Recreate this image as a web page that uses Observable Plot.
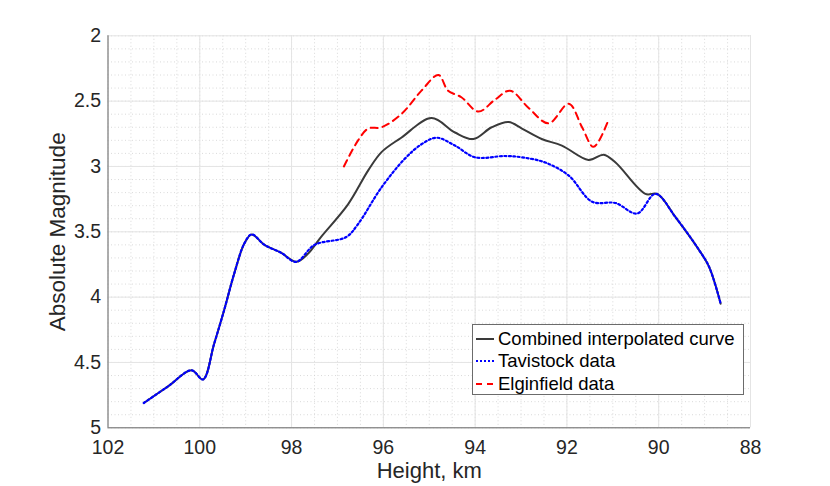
<!DOCTYPE html>
<html>
<head>
<meta charset="utf-8">
<script src="https://cdn.jsdelivr.net/npm/d3@7"></script>
<script src="https://cdn.jsdelivr.net/npm/@observablehq/plot@0.6"></script>
<style>
  html, body { margin: 0; padding: 0; background: #fff; }
  #wrap { position: relative; width: 830px; height: 486px; font-family: "Liberation Sans", Arial, Helvetica, sans-serif; }
  #legend { position: absolute; left: 472px; top: 324px; width: 272px; height: 71px; border: 1px solid #6b6b6b; background: #fff; box-sizing: border-box; }
  .item { position: absolute; left: 2px; height: 22px; display: flex; align-items: center; font-size: 18.5px; color: #000; white-space: nowrap; }
  .item svg { margin-right: 3px; }
</style>
</head>
<body>
<div id="wrap"></div>
<script>
// Combined interpolated curve
const combinedH = [101.22, 100.7, 100.18, 99.93, 99.69, 99.47, 99.25, 99.03, 98.87, 98.59, 98.23, 97.90, 97.65, 97.36, 96.77, 96.33, 96.04, 95.61, 94.95, 94.44, 94.04, 93.64, 93.27, 92.98, 92.55, 92.11, 91.53, 91.20, 90.94, 90.29, 90.03, 89.63, 89.12, 88.90, 88.65];
const combinedM = [4.81, 4.685, 4.56, 4.63, 4.36, 4.10, 3.82, 3.59, 3.52, 3.60, 3.66, 3.73, 3.67, 3.54, 3.29, 3.03, 2.89, 2.78, 2.63, 2.74, 2.79, 2.70, 2.66, 2.71, 2.79, 2.84, 2.95, 2.91, 2.97, 3.21, 3.21, 3.39, 3.64, 3.77, 4.05];
// Tavistock data
const tavH = [101.22, 100.7, 100.18, 99.93, 99.69, 99.47, 99.25, 99.03, 98.87, 98.59, 98.23, 97.90, 97.50, 96.81, 96.55, 96.04, 95.53, 95.17, 94.84, 94.44, 94.00, 93.35, 92.98, 92.47, 91.96, 91.45, 90.94, 90.47, 90.07, 89.63, 89.12, 88.90, 88.65];
const tavM = [4.81, 4.685, 4.56, 4.63, 4.36, 4.10, 3.82, 3.59, 3.52, 3.60, 3.66, 3.73, 3.60, 3.54, 3.44, 3.16, 2.94, 2.83, 2.78, 2.84, 2.93, 2.92, 2.93, 2.97, 3.07, 3.27, 3.28, 3.36, 3.21, 3.39, 3.64, 3.77, 4.05];
// Elginfield data
const elgH = [96.86, 96.55, 96.33, 96.04, 95.61, 95.17, 94.80, 94.59, 94.30, 93.93, 93.57, 93.24, 92.84, 92.40, 91.96, 91.67, 91.42, 91.09];
const elgM = [3.00, 2.80, 2.71, 2.70, 2.60, 2.42, 2.30, 2.42, 2.47, 2.58, 2.49, 2.42, 2.55, 2.67, 2.52, 2.70, 2.85, 2.64];

const xTicks = [102, 100, 98, 96, 94, 92, 90, 88];
const yTicks = [2, 2.5, 3, 3.5, 4, 4.5, 5];
const xMinor = d3.range(88, 102.01, 0.5);
const yMinor = d3.range(2, 5.001, 0.1).map(v => +v.toFixed(2));

const xLabel = "Height, km";
const yLabel = "Absolute Magnitude";
const seriesNames = ["Combined interpolated curve", "Tavistock data", "Elginfield data"];

const toRows = (H, M) => H.map((h, i) => ({h, m: M[i]}));
const combined = toRows(combinedH, combinedM);
const tav = toRows(tavH, tavM);
const elg = toRows(elgH, elgM);

const chart = Plot.plot({
  width: 830,
  height: 486,
  marginLeft: 107.5,
  marginRight: 80,
  marginTop: 35.3,
  marginBottom: 58.7,
  style: {fontFamily: '"Liberation Sans", Arial, Helvetica, sans-serif', background: "#fff", color: "#262626"},
  x: {domain: [102, 88], ticks: xTicks},
  y: {domain: [5, 2], ticks: yTicks},
  marks: [
    Plot.gridX(xMinor, {stroke: "#d0d0d0", strokeOpacity: 1, strokeDasharray: "1,2.5", strokeWidth: 0.8}),
    Plot.gridY(yMinor, {stroke: "#d0d0d0", strokeOpacity: 1, strokeDasharray: "1,2.5", strokeWidth: 0.8}),
    Plot.gridX(xTicks, {stroke: "#e4e4e4", strokeOpacity: 1, strokeWidth: 1}),
    Plot.gridY(yTicks, {stroke: "#e4e4e4", strokeOpacity: 1, strokeWidth: 1}),
    Plot.ruleX([102], {stroke: "#6b6b6b", strokeWidth: 1}),
    Plot.ruleY([5], {stroke: "#6b6b6b", strokeWidth: 1}),
    Plot.axisX(xTicks, {tickSize: 0, tickPadding: 12, fontSize: 19.5, label: null, fill: "#262626"}),
    Plot.axisY(yTicks, {tickSize: 0, tickPadding: 7, fontSize: 19.5, label: null, fill: "#262626", tickFormat: d => String(d)}),
    Plot.line(combined, {x: "h", y: "m", stroke: "#3a3a3a", strokeWidth: 2, curve: "catmull-rom"}),
    Plot.line(tav, {x: "h", y: "m", stroke: "#0000ff", strokeWidth: 2.2, strokeDasharray: "2,2.5", curve: "catmull-rom"}),
    Plot.line(elg, {x: "h", y: "m", stroke: "#ff0000", strokeWidth: 2, strokeDasharray: "7,5", curve: "catmull-rom"}),
    Plot.text([xLabel], {frameAnchor: "bottom", text: d => d, dy: 50, textAnchor: "middle", lineAnchor: "bottom", fontSize: 22, fill: "#262626"}),
    Plot.text([yLabel], {frameAnchor: "left", text: d => d, dx: -43.5, rotate: -90, textAnchor: "middle", lineAnchor: "bottom", fontSize: 22.5, fill: "#262626"})
  ]
});

const wrap = document.getElementById("wrap");
wrap.appendChild(chart);

const legend = document.createElement("div");
legend.id = "legend";
const styles = [
  {stroke: "#3a3a3a", dash: null},
  {stroke: "#0000ff", dash: "2,2"},
  {stroke: "#ff0000", dash: "6,5"}
];
seriesNames.forEach((name, i) => {
  const item = document.createElement("div");
  item.className = "item";
  item.style.top = (2.5 + i * 22.8) + "px";
  const s = styles[i];
  item.innerHTML = `<svg width="20" height="10"><line x1="1" x2="19" y1="5" y2="5" stroke="${s.stroke}" stroke-width="2" ${s.dash ? `stroke-dasharray="${s.dash}"` : ""}/></svg><span>${name}</span>`;
  legend.appendChild(item);
});
wrap.appendChild(legend);
</script>
</body>
</html>
